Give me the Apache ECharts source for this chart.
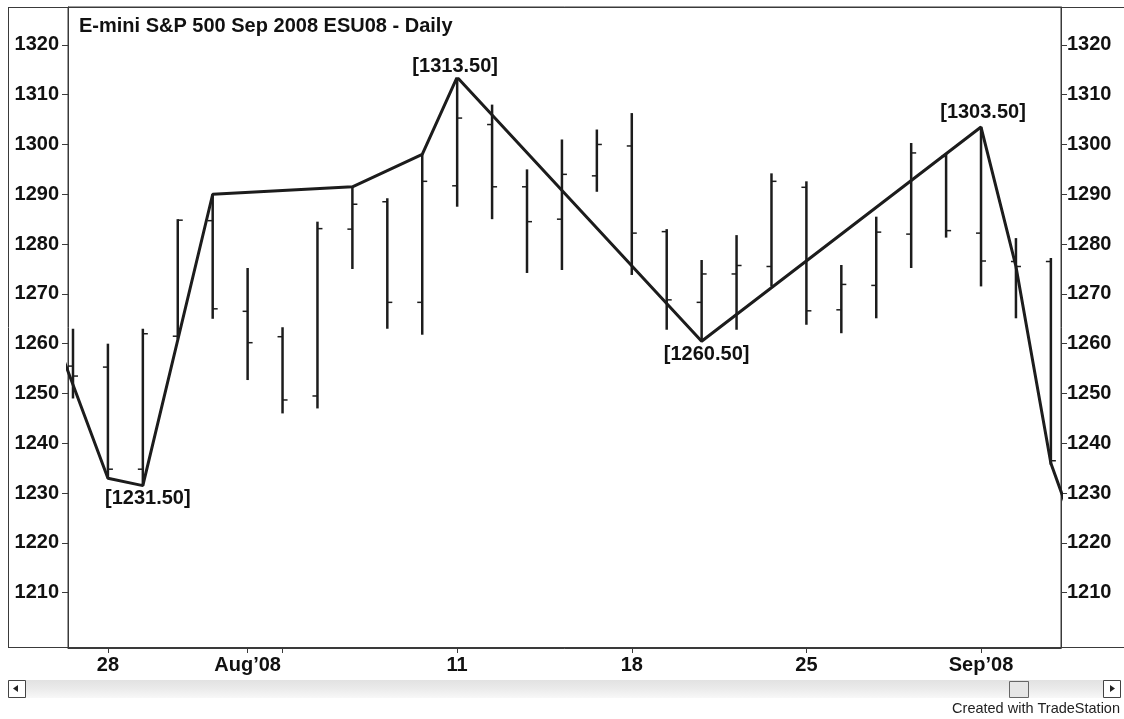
<!DOCTYPE html>
<html lang="en">
<head>
    <meta charset="UTF-8">
    <title>ESU08 Daily</title>
    <script src="https://cdn.jsdelivr.net/npm/echarts@6/dist/echarts.min.js"></script>
    <style>
        html, body { margin: 0; padding: 0; background: #fff; }
    </style>
</head>
<body>
<div id="main" style="width: 1124px;height:719px;"></div>
<script type="text/javascript">
    // daily bars, Jul 25 .. Sep 3 2008
    var dates = ['07-25', '07-28', '07-29', '07-30', '07-31', '08-01', '08-04', '08-05', '08-06', '08-07',
        '08-08', '08-11', '08-12', '08-13', '08-14', '08-15', '08-18', '08-19', '08-20', '08-21',
        '08-22', '08-25', '08-26', '08-27', '08-28', '08-29', '09-01', '09-02', '09-03'];
    var open = [1255.5, 1255.3, 1234.8, 1261.5, 1284.7, 1266.5, 1261.4, 1249.5, 1283.0, 1288.5,
        1268.3, 1291.7, 1304.0, 1291.5, 1285.0, 1293.7, 1299.7, 1282.5, 1268.3, 1274.0,
        1275.5, 1291.4, 1266.8, 1271.7, 1282.0, 1297.6, 1282.2, 1276.5, 1276.5];
    var high = [1263.0, 1260.0, 1263.0, 1285.0, 1290.0, 1275.2, 1263.3, 1284.5, 1291.5, 1289.2,
        1298.0, 1313.5, 1308.0, 1295.0, 1301.0, 1303.0, 1306.3, 1283.0, 1276.8, 1281.8,
        1294.2, 1292.6, 1275.8, 1285.5, 1300.3, 1298.3, 1303.5, 1281.2, 1277.2];
    var low = [1249.0, 1233.0, 1231.5, 1261.0, 1265.0, 1252.7, 1246.0, 1247.0, 1275.0, 1263.0,
        1261.8, 1287.5, 1285.0, 1274.2, 1274.8, 1290.5, 1273.8, 1262.8, 1260.5, 1262.8,
        1271.5, 1263.8, 1262.1, 1265.1, 1275.2, 1281.3, 1271.5, 1265.1, 1235.7];
    var close = [1253.5, 1234.8, 1262.0, 1284.8, 1267.0, 1260.2, 1248.7, 1283.1, 1288.0, 1268.3,
        1292.6, 1305.3, 1291.5, 1284.5, 1294.0, 1300.0, 1282.2, 1268.8, 1274.0, 1275.7,
        1292.6, 1266.6, 1271.9, 1282.4, 1298.3, 1282.7, 1276.6, 1275.5, 1236.5];

    // swing line (bar index, price); first and last points lie just outside the view
    var swingIdx = [-1, 1, 2, 4, 8, 10, 11, 18, 26, 27, 28, 29];
    var swingVal = [1270.5, 1233.0, 1231.5, 1290.0, 1291.5, 1298.0, 1313.5, 1260.5, 1303.5, 1275.5, 1236.0, 1216.5];

    // labelled pivots: index into swing arrays, side of the label
    var pivotAt = [2, 6, 7, 8];
    var pivotSide = ['bottom', 'top', 'bottom', 'top'];
    var pivotGap = [2, 0, 2, 4];
    var pivotShift = [5, -2, 5, 2];

    // axis labels
    var xTickIdx = [1, 5, 6, 11, 16, 21, 26];
    var xLabelIdx = [1, 5, 11, 16, 21, 26];
    var xLabels = ['28', 'Aug\u201908', '11', '18', '25', 'Sep\u201908'];
    var yTicks = [1210, 1220, 1230, 1240, 1250, 1260, 1270, 1280, 1290, 1300, 1310, 1320];

    var FONT = '"Liberation Sans", Arial, sans-serif';
    var INK = '#1c1c1c';
    var FRAME = '#3a3a3a';

    var ohlc = dates.map(function (d, i) {
        return [i, open[i], high[i], low[i], close[i]];
    });
    var swing = swingIdx.map(function (x, i) {
        var item = {value: [x, swingVal[i]]};
        var k = pivotAt.indexOf(i);
        if (k >= 0) {
            item.label = {
                show: true,
                position: pivotSide[k],
                distance: pivotGap[k],
                offset: [pivotShift[k], 0]
            };
        }
        return item;
    });

    function renderBar(params, api) {
        var x = api.value(0);
        var o = api.coord([x, api.value(1)]);
        var h = api.coord([x, api.value(2)]);
        var l = api.coord([x, api.value(3)]);
        var c = api.coord([x, api.value(4)]);
        var w = 5;
        return {
            type: 'group',
            children: [
                {type: 'line', shape: {x1: h[0], y1: h[1], x2: l[0], y2: l[1]}, style: {stroke: INK, lineWidth: 2.5}},
                {type: 'line', shape: {x1: o[0] - w, y1: o[1], x2: o[0], y2: o[1]}, style: {stroke: INK, lineWidth: 1.5}},
                {type: 'line', shape: {x1: c[0], y1: c[1], x2: c[0] + w, y2: c[1]}, style: {stroke: INK, lineWidth: 1.5}}
            ]
        };
    }

    function yAxisOf(pos) {
        return {
            type: 'value',
            position: pos,
            min: 1198.9,
            max: 1327.6,
            splitLine: {show: false},
            axisLine: {show: true, onZero: false, lineStyle: {color: FRAME, width: 1}},
            axisTick: {show: true, length: 6, customValues: yTicks, lineStyle: {color: FRAME}},
            axisLabel: {
                customValues: yTicks,
                margin: pos === 'left' ? 9 : 6,
                fontFamily: FONT, fontSize: 20, fontWeight: 'bold', color: '#111',
                formatter: function (v) { return String(v); }
            }
        };
    }

    var myChart = echarts.init(document.getElementById('main'));

    var option = {
        backgroundColor: '#fff',
        animation: false,
        title: {
            text: 'E-mini S&P 500 Sep 2008 ESU08 - Daily',
            left: 74, top: 11,
            textStyle: {fontFamily: FONT, fontSize: 20, fontWeight: 'bold', color: '#111'}
        },
        grid: {
            left: 68, right: 63, top: 7, bottom: 71,
            show: true, borderColor: FRAME, borderWidth: 1, backgroundColor: '#fff'
        },
        xAxis: {
            type: 'value',
            min: -0.143,
            max: 28.29,
            splitLine: {show: false},
            axisLine: {show: true, onZero: false, lineStyle: {color: FRAME}},
            axisTick: {show: true, length: 5, customValues: xTickIdx, lineStyle: {color: FRAME}},
            axisLabel: {
                customValues: xLabelIdx,
                margin: 7,
                fontFamily: FONT, fontSize: 20, fontWeight: 'bold', color: '#111',
                formatter: function (v) {
                    var k = xLabelIdx.indexOf(Math.round(v));
                    return k >= 0 ? xLabels[k] : '';
                }
            }
        },
        yAxis: [yAxisOf('left'), yAxisOf('right')],
        series: [
            {
                name: 'ESU08',
                type: 'custom',
                renderItem: renderBar,
                encode: {x: 0, y: [1, 2, 3, 4]},
                data: ohlc,
                clip: true,
                z: 2
            },
            {
                name: 'swing',
                type: 'line',
                data: swing,
                symbol: 'circle',
                symbolSize: 0,
                showSymbol: true,
                clip: true,
                itemStyle: {color: INK},
                lineStyle: {color: INK, width: 3},
                label: {
                    show: false,
                    fontFamily: FONT, fontSize: 20, fontWeight: 'bold', color: '#111',
                    backgroundColor: '#fff',
                    padding: [1, 2],
                    formatter: function (p) { return '[' + p.value[1].toFixed(2) + ']'; }
                },
                z: 3
            }
        ],
        graphic: [
            // window frame outside the plot
            {type: 'line', shape: {x1: 8, y1: 7.5, x2: 1124, y2: 7.5}, style: {stroke: FRAME, lineWidth: 1}},
            {type: 'line', shape: {x1: 8.5, y1: 7, x2: 8.5, y2: 648}, style: {stroke: FRAME, lineWidth: 1}},
            {type: 'line', shape: {x1: 8, y1: 647.5, x2: 1124, y2: 647.5}, style: {stroke: FRAME, lineWidth: 1}},
            // scrollbar strip under the chart
            {
                type: 'rect', left: 8, top: 680,
                shape: {width: 1112, height: 18},
                style: {
                    fill: new echarts.graphic.LinearGradient(0, 0, 0, 1, [
                        {offset: 0, color: '#e2e2e2'},
                        {offset: 0.5, color: '#ebebeb'},
                        {offset: 1, color: '#f8f8f8'}
                    ])
                }
            },
            {type: 'rect', left: 8, top: 680, shape: {width: 17, height: 17}, style: {fill: '#fff', stroke: '#444', lineWidth: 1}},
            {type: 'polygon', shape: {points: [[13, 688.5], [18, 685], [18, 692]]}, style: {fill: '#222'}},
            {type: 'rect', left: 1103, top: 680, shape: {width: 17, height: 17}, style: {fill: '#fff', stroke: '#444', lineWidth: 1}},
            {type: 'polygon', shape: {points: [[1115, 688.5], [1110, 685], [1110, 692]]}, style: {fill: '#222'}},
            {type: 'rect', left: 1009, top: 681, shape: {width: 19, height: 16}, style: {fill: '#e6e6e6', stroke: '#666', lineWidth: 1}},
            {
                type: 'text', right: 4, top: 701,
                style: {text: 'Created with TradeStation', font: '14.5px ' + FONT, fill: '#222'}
            }
        ]
    };

    myChart.setOption(option);
</script>
</body>
</html>
